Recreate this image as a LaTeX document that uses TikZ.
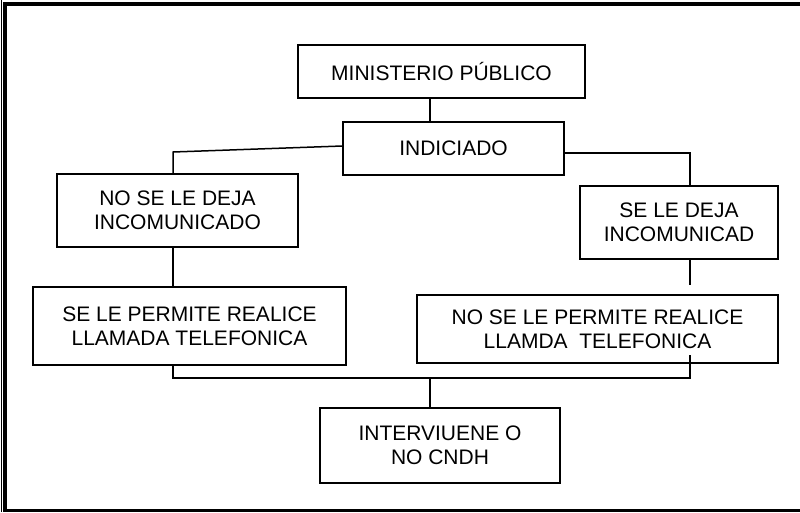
\documentclass[tikz,border=0pt]{standalone}
\usepackage{fontspec}
\setmainfont{Liberation Sans}
\usetikzlibrary{positioning}
\tikzset{
  caja/.style={draw, line width=1.5pt, align=center, inner sep=0pt,
    font=\fontsize{21}{24}\selectfont},
  enlace/.style={line width=1.5pt}
}
\begin{document}
\begin{tikzpicture}[x=1pt, y=-1pt]
    \useasboundingbox (0,0) rectangle (800,512);
    \clip (0,0) rectangle (800,512);
    % Marco doble de la hoja
    \draw[line width=1pt] (1.5,0) -- (1.5,512);
    \draw[line width=3.5pt] (830,4) -| (5,510.5) -- (830,510.5);
    % Cajas del diagrama
    \node[caja, minimum width=287, minimum height=53] (min) at (441.5,71.5)
        {MINISTERIO PÚBLICO};
    \node[caja, minimum width=221, minimum height=53] (ind) at (453.5,148.5)
        {INDICIADO};
    \node[caja, minimum width=241, minimum height=73] (nodeja) at (177.5,210.5)
        {NO SE LE DEJA\\INCOMUNICADO};
    \node[caja, minimum width=198, minimum height=73] (sideja) at (679,222.5)
        {SE LE DEJA\\INCOMUNICAD};
    \node[caja, minimum width=313, minimum height=78] (sipermite) at (189.5,326)
        {SE LE PERMITE REALICE\\LLAMADA TELEFONICA};
    \node[caja, minimum width=361, minimum height=68] (nopermite) at (597.5,329)
        {NO SE LE PERMITE REALICE\\LLAMDA~ TELEFONICA};
    \node[caja, minimum width=240, minimum height=75] (cndh) at (440,445.5)
        {INTERVIUENE O\\NO CNDH};
    % Puntos de union de las lineas
    \coordinate (kt) at (430,98);
    \coordinate (kl) at (173,152);
    \coordinate (kr) at (690,153);
    \coordinate (kb) at (430,378);
    % Lineas de enlace
    \draw[enlace] (min.south -| kt) -- (ind.north -| kt);
    \draw[enlace] ([yshift=2.5pt]ind.west) -- (kl) -- (nodeja.north -| kl);
    \draw[enlace] ([yshift=-4.5pt]ind.east) -- (kr) -- (sideja.north -| kr);
    \draw[enlace] (nodeja.south -| kl) -- (sipermite.north -| kl);
    \draw[enlace, shorten >=9pt] (sideja.south -| kr) -- (nopermite.north -| kr);
    \draw[enlace, shorten >=-9pt] (sipermite.south -| kl) |- (kb)
        -| (nopermite.south -| kr);
    \draw[enlace] (kb) -- (cndh.north -| kb);
\end{tikzpicture}
\end{document}
